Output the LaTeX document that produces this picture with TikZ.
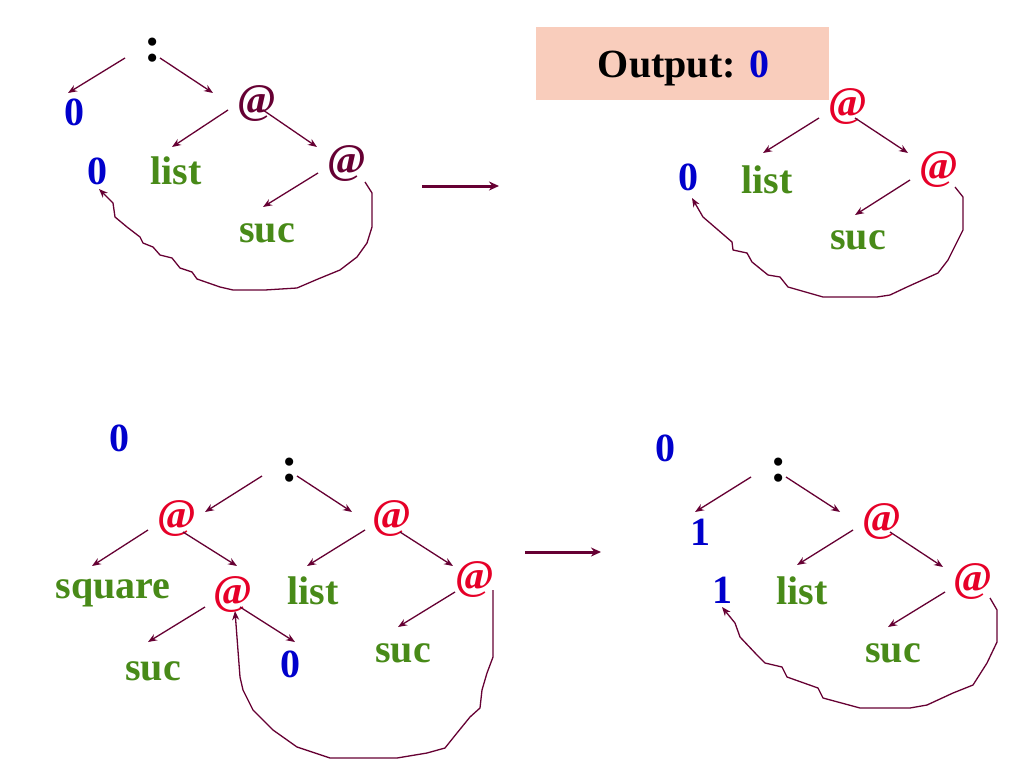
\documentclass[tikz,border=0pt]{standalone}
\usepackage{fontspec}
\setmainfont{Liberation Serif}
\usetikzlibrary{arrows.meta,calc}
\definecolor{arcol}{RGB}{102,0,51}
\definecolor{numblue}{RGB}{0,0,204}
\definecolor{fngreen}{RGB}{72,138,24}
\definecolor{apred}{RGB}{230,0,40}
\definecolor{peach}{RGB}{249,205,188}
\tikzset{
  lbl/.style={inner sep=0pt, font=\fontsize{40}{42}\selectfont\bfseries},
  num/.style={lbl, text=numblue},
  fun/.style={lbl, text=fngreen},
  cons/.style={inner sep=0pt, font=\fontsize{50}{52}\selectfont\bfseries, text=black},
  outtxt/.style={lbl, text=black},
  app/.style={inner sep=0pt, font=\fontsize{42}{44}\selectfont\bfseries, text=apred},
  appd/.style={app, text=arcol},
  edge/.style={draw=arcol, line width=1.3pt, -{Stealth[length=9pt,width=7pt]}},
  back/.style={edge, line join=round},
  stepto/.style={draw=arcol, line width=3pt, -{Stealth[length=10pt,width=9pt]}},
}
\newcommand{\rel}[3]{([shift={(#2,#3)}]#1.center)}
\begin{document}
\begin{tikzpicture}[x=1pt,y=-1pt]
\useasboundingbox (0,0) rectangle (1024,768);
\fill[white] (0,0) rectangle (1024,768);

% ---------- top left ----------
\node[cons] (c1) at (153,50) {:};
\node[num]  (z1) at (74,112) {0};
\node[appd] (a1) at (257,104) {@};
\node[num]  (z2) at (97,171) {0};
\node[fun]  (l1) at (176,171) {list};
\node[appd] (a2) at (347,164) {@};
\node[fun]  (s1) at (267,233) {suc};
\draw[edge] \rel{c1}{-28}{8} -- \rel{z1}{-6}{-19};
\draw[edge] \rel{c1}{7}{8} -- \rel{a1}{-44}{-11};
\draw[edge] \rel{a1}{-29}{6} -- \rel{l1}{-4}{-24};
\draw[edge] \rel{a1}{6}{6} -- \rel{a2}{-30}{-17};
\draw[edge] \rel{a2}{-29}{9} -- \rel{s1}{-4}{-26};
\draw[back] \rel{a2}{18}{18} -- (372,193) -- (372,227) -- (367,243) -- (357,257)
  -- (340,270) -- (318,279) -- (297,288) -- (265,290) -- (233,290) -- (220,287)
  -- (197,279) -- (192,272) -- (180,268) -- (172,258) -- (160,255) -- (153,247)
  -- (143,243) -- (140,237) -- (127,227) -- (115,217) -- (113,203) -- \rel{z2}{2}{18};

% middle arrow top
\coordinate (m1a) at (422,186);
\coordinate (m1b) at (499,186);
\draw[stepto] (m1a) -- (m1b);

% ---------- top right ----------
\node[fill=peach, inner sep=0pt, minimum width=293pt, minimum height=73pt] (box) at (682.5,63.5) {};
\node[outtxt] (out) at (683.5,68) {Output: \textcolor{numblue}{0}};
\node[app] (b1) at (848,107) {@};
\node[num] (z3) at (688,177) {0};
\node[fun] (l2) at (767,180) {list};
\node[app] (b2) at (939,170) {@};
\node[fun] (s2) at (858,240) {suc};
\draw[edge] \rel{b1}{-29}{11} -- \rel{l2}{-4}{-27};
\draw[edge] \rel{b1}{7}{11} -- \rel{b2}{-31}{-17};
\draw[edge] \rel{b2}{-29}{10} -- \rel{s2}{-3}{-25};
\draw[back] \rel{b2}{16}{17} -- (963,197) -- (963,230) -- (953,250) -- (948,260)
  -- (938,273) -- (907,287) -- (890,295) -- (877,297) -- (823,297) -- (788,287)
  -- (780,277) -- (768,275) -- (752,262) -- (747,253) -- (733,250) -- (732,242)
  -- (703,217) -- \rel{z3}{4}{21};

% ---------- bottom left ----------
\node[num]  (z4) at (119,438) {0};
\node[cons] (c2) at (290,470) {:};
\node[app]  (d1) at (177,518) {@};
\node[app]  (d2) at (392,518) {@};
\node[fun]  (sq) at (113,593) {square};
\node[app]  (d3) at (233,594) {@};
\node[fun]  (l3) at (313,591) {list};
\node[app]  (d4) at (475,579) {@};
\node[fun]  (s3) at (153,671) {suc};
\node[num]  (z5) at (290,664) {0};
\node[fun]  (s4) at (403,653) {suc};
\draw[edge] \rel{c2}{-28}{6} -- \rel{d1}{28}{-6};
\draw[edge] \rel{c2}{7}{6} -- \rel{d2}{-40}{-6};
\draw[edge] \rel{d1}{-29}{12} -- \rel{sq}{-21}{-27};
\draw[edge] \rel{d1}{6}{14} -- \rel{d3}{4}{-28};
\draw[edge] \rel{d2}{-27}{12} -- \rel{l3}{-6}{-25};
\draw[edge] \rel{d2}{8}{14} -- \rel{d4}{-22}{-13};
\draw[edge] \rel{d3}{-28}{13} -- \rel{s3}{-5}{-29};
\draw[edge] \rel{d3}{7}{13} -- \rel{z5}{5}{-22};
\draw[edge] \rel{d4}{-20}{13} -- \rel{s4}{-5}{-26};
\draw[back] \rel{d4}{18}{11} -- (493,657) -- (487,673) -- (482,690) -- (480,708)
  -- (470,717) -- (457,733) -- (445,748) -- (427,753) -- (397,758) -- (330,758)
  -- (297,747) -- (273,730) -- (253,710) -- (243,690) -- (240,677) -- \rel{d3}{2}{17};

% middle arrow bottom
\coordinate (m2a) at (525,552);
\coordinate (m2b) at (601,552);
\draw[stepto] (m2a) -- (m2b);

% ---------- bottom right ----------
\node[num]  (z6) at (665,448) {0};
\node[cons] (c3) at (779,470) {:};
\node[num]  (o1) at (700,532) {1};
\node[app]  (e1) at (882,521) {@};
\node[num]  (o2) at (722,590) {1};
\node[fun]  (l4) at (802,591) {list};
\node[app]  (e2) at (973,581) {@};
\node[fun]  (s5) at (893,653) {suc};
\draw[edge] \rel{c3}{-28}{7} -- \rel{o1}{-5}{-20};
\draw[edge] \rel{c3}{7}{7} -- \rel{e1}{-42}{-9};
\draw[edge] \rel{e1}{-29}{9} -- \rel{l4}{-5}{-26};
\draw[edge] \rel{e1}{8}{11} -- \rel{e2}{-30}{-14};
\draw[edge] \rel{e2}{-28}{11} -- \rel{s5}{-5}{-26};
\draw[back] \rel{e2}{17}{17} -- (997,610) -- (997,642) -- (987,663) -- (973,685)
  -- (953,693) -- (927,705) -- (910,708) -- (860,708) -- (823,698) -- (818,688)
  -- (787,677) -- (782,667) -- (765,663) -- (757,655) -- (740,637) -- (735,623)
  -- \rel{o2}{0}{17};
\end{tikzpicture}
\end{document}
